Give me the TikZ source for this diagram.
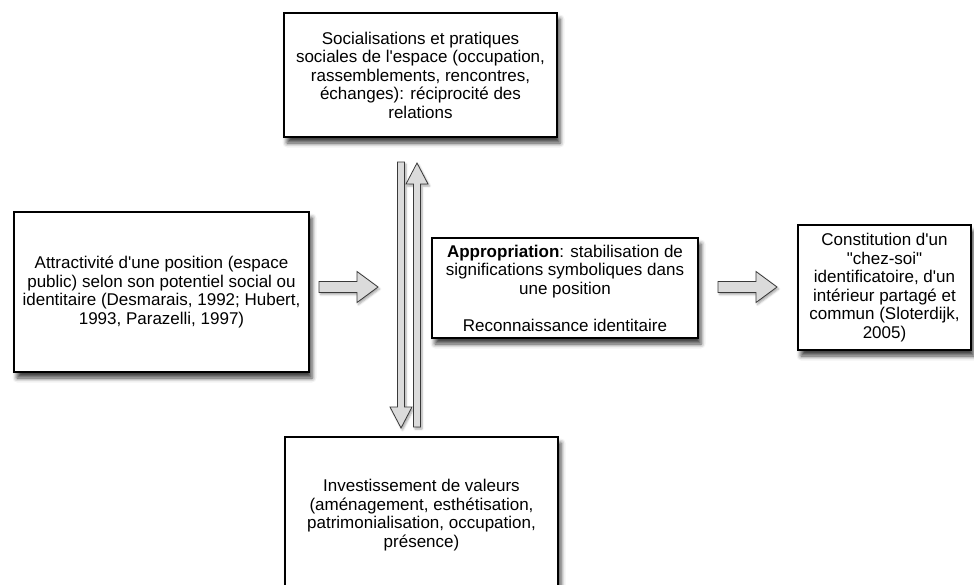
\documentclass[tikz,border=0pt]{standalone}
\usepackage{fontspec}
\setmainfont{Liberation Sans}[Ligatures=TeXOff]
\usetikzlibrary{calc, shadows.blur}
\tikzset{
  shaft half/.store in=\shafthalf, head half/.store in=\headhalf, head len/.store in=\headlen,
  box/.style={draw, line width=1.1pt, fill=white, align=center, inner sep=0pt,
    font=\fontsize{17pt}{18.5pt}\selectfont,
    blur shadow={shadow xshift=3pt, shadow yshift=-6pt, shadow blur radius=4.5pt, shadow opacity=75}},
  bigarrow/.style={draw=gray!45!black, fill=gray!28, line width=0.8pt, line join=miter,
    blur shadow={shadow xshift=1.5pt, shadow yshift=-2pt, shadow blur radius=2pt, shadow opacity=35},
    to path={let \p1=(\tikztostart), \p2=(\tikztotarget), \n1={atan2(\y2-\y1,\x2-\x1)}, \n2={veclen(\x2-\x1,\y2-\y1)} in
      (\p1) ++(\n1+90:\shafthalf) -- ++(\n1:\n2-\headlen) -- ++(\n1+90:\headhalf-\shafthalf) -- (\p2)
      -- ($(\p2)+(\n1+180:\headlen)+(\n1-90:\headhalf)$) -- ++(\n1+90:\headhalf-\shafthalf)
      -- ++(\n1+180:\n2-\headlen) -- cycle}},
  flat/.style={bigarrow, shaft half=5.5pt, head half=15.5pt, head len=21pt},
  tall/.style={bigarrow, shaft half=3.5pt, head half=11pt, head len=21pt}
}

\begin{document}
\begin{tikzpicture}[x=1pt, y=-1pt]
\useasboundingbox (0,0) rectangle (974,584);
\node[box, minimum width=273pt, minimum height=124pt] (socia) at (420.5,75) {Socialisations et pratiques\\sociales de l'espace (occupation,\\rassemblements, rencontres,\\échanges): réciprocité des\\relations};
\node[box, minimum width=295pt, minimum height=160pt] (attrac) at (161.5,292) {Attractivité d'une position (espace\\public) selon son potentiel social ou\\identitaire (Desmarais, 1992; Hubert,\\1993, Parazelli, 1997)};
\node[box, minimum width=266pt, minimum height=100pt] (approp) at (565,288) {\textbf{Appropriation}: stabilisation de\\significations symboliques dans\\une position\\[18.5pt]Reconnaissance identitaire};
\node[box, minimum width=173pt, minimum height=125pt] (chez) at (884.5,287.5) {Constitution d'un\\"chez-soi"\\identificatoire, d'un\\intérieur partagé et\\commun (Sloterdijk,\\2005)};
\node[box, minimum width=273pt, minimum height=156pt] (invest) at (421.5,515) {Investissement de valeurs\\(aménagement, esthétisation,\\patrimonialisation, occupation,\\présence)};
% arrow ends
\coordinate (a1) at (319,287); \coordinate (a2) at (378,287);
\coordinate (b1) at (718,287); \coordinate (b2) at (777,287);
\coordinate (d1) at (401,162); \coordinate (d2) at (401,428);
\coordinate (u1) at (417,427); \coordinate (u2) at (417,163);
\draw[flat] (a1) to (a2);
\draw[flat] (b1) to (b2);
\draw[tall] (d1) to (d2);
\draw[tall] (u1) to (u2);
\end{tikzpicture}
\end{document}
